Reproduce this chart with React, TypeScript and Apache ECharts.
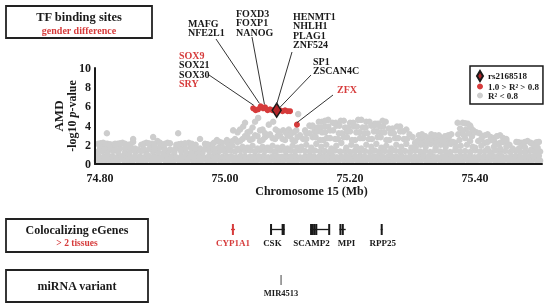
import React, { useEffect, useRef } from "react";
import * as echarts from "echarts";

const FONT = '"Liberation Serif", "Times New Roman", serif';
const RED = "#d63b3b";
const GRAY = "#cdcdcd";
const INK = "#1a1a1a";

// x axis (Mb) range and tick labels
const xMin = 74.792;
const xMax = 75.507;
const xTickValues = [74.8, 75.0, 75.2, 75.4];
const yTickMax = 10;

// Gray SNPs (R² < 0.8): dense band rows and scattered upper points [Mb, -log10 p]
const bandLow: [number, number][] = [[74.795,0.35],[74.802,0.35],[74.809,0.4],[74.816,0.35],[74.823,0.35],[74.830,0.4],[74.838,0.4],[74.845,0.35],[74.852,0.35],[74.860,0.4],[74.867,0.35],[74.874,0.4],[74.882,0.35],[74.889,0.35],[74.896,0.4],[74.904,0.4],[74.911,0.35],[74.918,0.35],[74.926,0.4],[74.933,0.35],[74.940,0.35],[74.948,0.4],[74.955,0.35],[74.962,0.35],[74.970,0.4],[74.977,0.35],[74.984,0.4],[74.992,0.35],[74.999,0.35],[75.006,0.4],[75.014,0.35],[75.021,0.4],[75.028,0.35],[75.036,0.35],[75.043,0.4],[75.050,0.35],[75.058,0.4],[75.065,0.35],[75.072,0.35],[75.080,0.4],[75.087,0.35],[75.094,0.4],[75.102,0.35],[75.109,0.35],[75.116,0.4],[75.124,0.35],[75.131,0.4],[75.138,0.35],[75.146,0.35],[75.153,0.4],[75.160,0.35],[75.168,0.4],[75.175,0.35],[75.182,0.35],[75.190,0.4],[75.197,0.35],[75.204,0.4],[75.212,0.35],[75.219,0.35],[75.226,0.4],[75.234,0.35],[75.241,0.4],[75.248,0.35],[75.256,0.35],[75.263,0.4],[75.270,0.35],[75.278,0.4],[75.285,0.35],[75.292,0.35],[75.300,0.4],[75.307,0.35],[75.314,0.4],[75.322,0.35],[75.329,0.35],[75.336,0.4],[75.344,0.35],[75.351,0.4],[75.358,0.35],[75.366,0.35],[75.373,0.4],[75.380,0.35],[75.388,0.4],[75.395,0.35],[75.402,0.35],[75.410,0.4],[75.417,0.35],[75.424,0.4],[75.432,0.35],[75.439,0.35],[75.446,0.4],[75.454,0.35],[75.461,0.4],[75.468,0.35],[75.476,0.35],[75.483,0.4],[75.490,0.35],[75.498,0.4],[75.504,0.35]];
const bandMid: [number, number][] = [[74.798,0.8],[74.806,0.75],[74.813,0.85],[74.820,0.8],[74.827,0.7],[74.834,0.8],[74.842,0.85],[74.849,0.75],[74.856,0.8],[74.864,0.8],[74.871,0.7],[74.878,0.85],[74.886,0.8],[74.893,0.75],[74.900,0.8],[74.908,0.85],[74.915,0.8],[74.922,0.7],[74.930,0.8],[74.937,0.8],[74.944,0.75],[74.952,0.85],[74.959,0.8],[74.966,0.7],[74.974,0.8],[74.981,0.8],[74.988,0.85],[74.996,0.75],[75.003,0.8],[75.010,0.8],[75.018,0.7],[75.025,0.85],[75.032,0.8],[75.040,0.75],[75.047,0.8],[75.054,0.8],[75.062,0.85],[75.069,0.7],[75.076,0.8],[75.084,0.8],[75.091,0.75],[75.098,0.85],[75.106,0.8],[75.113,0.8],[75.120,0.7],[75.128,0.8],[75.135,0.85],[75.142,0.8],[75.150,0.75],[75.157,0.8],[75.164,0.8],[75.172,0.85],[75.179,0.7],[75.186,0.8],[75.194,0.8],[75.201,0.75],[75.208,0.85],[75.216,0.8],[75.223,0.8],[75.230,0.7],[75.238,0.8],[75.245,0.85],[75.252,0.8],[75.260,0.75],[75.267,0.8],[75.274,0.8],[75.282,0.85],[75.289,0.7],[75.296,0.8],[75.304,0.8],[75.311,0.75],[75.318,0.85],[75.326,0.8],[75.333,0.8],[75.340,0.7],[75.348,0.8],[75.355,0.85],[75.362,0.8],[75.370,0.75],[75.377,0.8],[75.384,0.8],[75.392,0.85],[75.399,0.7],[75.406,0.8],[75.414,0.8],[75.421,0.75],[75.428,0.85],[75.436,0.8],[75.443,0.8],[75.450,0.7],[75.458,0.8],[75.465,0.85],[75.472,0.8],[75.480,0.75],[75.487,0.8],[75.494,0.8],[75.502,0.85]];
const bandHigh: [number, number][] = [[74.796,1.25],[74.804,1.3],[74.812,1.2],[74.821,1.35],[74.829,1.25],[74.840,1.2],[74.848,1.3],[74.857,1.25],[74.866,1.35],[74.874,1.2],[74.885,1.3],[74.893,1.25],[74.902,1.2],[74.910,1.35],[74.919,1.25],[74.930,1.3],[74.938,1.2],[74.947,1.25],[74.956,1.35],[74.964,1.2],[74.975,1.3],[74.983,1.25],[74.991,1.35],[75.000,1.3],[75.008,1.4],[75.016,1.3],[75.024,1.45],[75.032,1.35],[75.040,1.4],[75.048,1.3],[75.056,1.45],[75.064,1.35],[75.072,1.4],[75.080,1.3],[75.088,1.45],[75.096,1.35],[75.104,1.4],[75.112,1.3],[75.120,1.4],[75.128,1.35],[75.136,1.3],[75.144,1.4],[75.152,1.3],[75.160,1.35],[75.168,1.25],[75.176,1.4],[75.184,1.3],[75.192,1.35],[75.200,1.25],[75.208,1.4],[75.216,1.3],[75.224,1.35],[75.232,1.25],[75.240,1.4],[75.248,1.3],[75.256,1.35],[75.264,1.25],[75.272,1.4],[75.280,1.3],[75.288,1.35],[75.296,1.25],[75.304,1.4],[75.312,1.3],[75.320,1.35],[75.328,1.25],[75.336,1.4],[75.344,1.3],[75.352,1.35],[75.360,1.25],[75.368,1.4],[75.376,1.3],[75.384,1.35],[75.392,1.25],[75.400,1.4],[75.408,1.3],[75.416,1.35],[75.424,1.25],[75.432,1.4],[75.440,1.3],[75.448,1.35],[75.456,1.25],[75.464,1.4],[75.472,1.3],[75.480,1.2],[75.488,1.35],[75.496,1.25],[75.504,1.3]];
const grayUpper: [number, number][] = [
  [74.800,1.6],[74.815,1.7],[74.832,1.6],[74.848,1.7],[74.861,1.5],[74.879,1.6],[74.895,1.7],[74.912,1.5],[74.927,1.6],[74.945,1.7],[74.960,1.6],[74.974,1.5],[74.990,1.7],
  [74.807,1.65],[74.823,1.6],[74.840,1.65],[74.856,1.6],[74.870,1.55],[74.887,1.65],[74.903,1.6],[74.920,1.55],[74.936,1.65],[74.952,1.6],[74.967,1.55],[74.982,1.6],[74.998,1.65],
  [74.797,2.1],[74.805,2.2],[74.812,2.1],[74.820,2.0],[74.828,2.1],[74.836,2.2],[74.845,2.0],[74.853,2.3],[74.866,2.0],[74.874,2.2],[74.883,2.1],[74.892,2.4],[74.900,2.0],[74.908,2.2],[74.922,2.0],[74.930,2.1],[74.942,2.2],[74.953,2.0],[74.968,2.1],[74.978,2.0],[74.987,2.5],[74.995,2.2],
  [74.801,2.15],[74.809,2.1],[74.816,2.05],[74.824,2.1],[74.832,2.15],[74.840,2.1],[74.849,2.05],[74.870,2.1],[74.878,2.15],[74.887,2.05],[74.896,2.2],[74.904,2.1],[74.912,2.15],[74.926,2.05],[74.936,2.15],[74.947,2.1],[74.972,2.05],[74.982,2.2],[74.991,2.3],
  [74.811,3.2],[74.853,2.6],[74.885,2.8],[74.925,3.2],[74.960,2.6],[75.003,2.5],
  [75.005,1.7],[75.012,1.9],[75.020,1.6],[75.028,1.8],[75.036,1.7],[75.044,1.9],[75.052,1.6],[75.060,1.8],[75.068,1.7],[75.076,1.9],[75.084,1.7],[75.092,1.8],[75.100,1.6],[75.108,1.9],[75.116,1.7],
  [75.008,2.3],[75.016,2.6],[75.024,2.4],[75.032,2.9],[75.040,2.5],[75.048,3.0],[75.056,2.4],[75.064,2.8],[75.072,3.1],[75.080,2.6],[75.088,3.0],[75.096,2.5],[75.104,2.9],[75.112,2.4],[75.120,3.0],
  [75.004,2.2],[75.012,2.4],[75.020,2.3],[75.028,2.6],[75.036,2.8],[75.044,2.6],[75.052,2.9],[75.060,2.5],[75.068,3.0],[75.076,2.7],[75.084,2.9],[75.092,2.6],[75.100,3.0],[75.108,2.5],[75.116,2.8],
  [75.013,3.5],[75.020,3.3],[75.024,3.6],[75.029,3.9],[75.032,4.3],[75.036,3.3],[75.040,3.4],[75.044,3.8],[75.048,4.4],[75.053,4.8],[75.056,3.5],[75.060,3.6],[75.064,3.2],[75.070,4.1],[75.077,4.4],[75.081,3.6],[75.085,3.4],[75.093,3.5],[75.097,3.3],[75.102,3.6],[75.106,3.2],[75.110,3.3],[75.114,3.5],[75.117,5.2],[75.128,3.5],[75.138,3.9],
  [75.150,4.4],[75.155,4.4],[75.160,4.5],[75.165,4.6],[75.172,4.3],[75.177,4.3],[75.185,4.5],[75.190,4.5],[75.200,4.3],[75.205,4.3],[75.213,4.6],[75.218,4.6],[75.226,4.4],[75.231,4.4],[75.240,4.2],[75.245,4.2],[75.252,4.5],[75.257,4.4],
  [75.135,4.0],[75.140,4.0],[75.148,3.8],[75.153,3.8],[75.160,3.9],[75.165,3.9],[75.178,4.0],[75.183,4.0],[75.192,3.8],[75.197,3.8],[75.206,3.9],[75.211,3.9],[75.220,3.8],[75.225,3.8],[75.234,4.0],[75.239,4.0],[75.248,3.9],[75.253,3.9],[75.262,3.7],[75.268,3.7],[75.275,3.9],[75.280,3.9],[75.290,3.6],
  [75.130,3.2],[75.135,3.2],[75.143,3.4],[75.148,3.4],[75.155,3.3],[75.160,3.3],[75.168,3.5],[75.173,3.5],[75.182,3.2],[75.187,3.2],[75.195,3.4],[75.200,3.4],[75.210,3.3],[75.215,3.3],[75.223,3.2],[75.228,3.2],[75.238,3.4],[75.243,3.4],[75.250,3.3],[75.255,3.3],[75.265,3.2],[75.270,3.2],[75.280,3.4],[75.285,3.4],[75.295,3.1],
  [75.125,2.6],[75.130,2.6],[75.140,2.8],[75.145,2.8],[75.152,2.5],[75.157,2.5],[75.163,2.7],[75.168,2.7],[75.176,2.6],[75.181,2.6],[75.190,2.8],[75.195,2.8],[75.203,2.5],[75.208,2.5],[75.216,2.7],[75.221,2.7],[75.230,2.6],[75.235,2.6],[75.244,2.8],[75.249,2.8],[75.258,2.5],[75.263,2.5],[75.272,2.7],[75.277,2.7],[75.286,2.6],[75.291,2.6],[75.300,2.8],
  [75.122,1.8],[75.130,2.0],[75.138,1.7],[75.146,2.1],[75.154,1.8],[75.162,2.0],[75.170,1.6],[75.178,1.9],[75.186,2.2],[75.194,1.7],[75.202,2.0],[75.210,1.8],[75.218,1.6],[75.226,2.0],[75.234,1.8],[75.242,2.1],[75.250,1.7],[75.258,1.9],[75.266,1.6],[75.274,2.0],[75.282,1.8],[75.290,2.1],[75.298,1.7],
  [75.305,1.7],[75.313,2.0],[75.321,1.8],[75.329,2.1],[75.337,1.7],[75.345,2.0],[75.353,1.8],[75.361,2.1],[75.369,1.7],
  [75.304,2.2],[75.312,2.3],[75.320,2.2],[75.328,2.3],[75.336,2.2],[75.344,2.3],[75.352,2.2],[75.360,2.3],[75.368,2.2],
  [75.308,2.4],[75.316,2.6],[75.324,2.3],[75.332,2.5],[75.340,2.7],[75.348,2.4],[75.356,2.6],[75.364,2.3],
  [75.314,2.8],[75.326,2.7],[75.336,2.8],[75.346,2.7],[75.358,2.8],
  [75.310,3.0],[75.315,3.1],[75.320,2.9],[75.330,3.1],[75.336,3.0],[75.342,3.0],[75.352,2.9],[75.357,3.0],[75.362,3.1],
  [75.372,4.3],[75.380,4.3],[75.384,4.25],[75.388,4.2],[75.392,4.0],[75.376,3.7],[75.385,3.6],[75.393,3.8],[75.380,3.4],[75.397,3.5],[75.373,3.1],[75.382,3.0],[75.390,3.2],[75.375,2.5],[75.384,2.7],[75.392,2.4],[75.377,1.9],[75.387,2.0],[75.396,1.8],
  [75.402,3.3],[75.407,3.2],[75.412,2.9],[75.416,3.0],[75.420,3.1],[75.425,2.8],[75.430,2.7],[75.435,2.9],[75.440,3.0],[75.445,2.7],[75.450,2.6],[75.395,2.9],
  [75.405,2.4],[75.410,2.6],[75.415,2.2],[75.420,2.3],[75.425,2.5],[75.430,2.4],[75.435,2.1],[75.440,2.2],[75.445,2.3],[75.450,2.4],[75.455,2.0],
  [75.400,1.7],[75.410,1.9],[75.420,1.6],[75.430,1.8],[75.440,1.6],[75.450,1.8],[75.460,1.6],
  [75.466,2.3],[75.470,2.25],[75.475,2.2],[75.480,2.3],[75.484,2.4],[75.489,2.2],[75.493,2.1],[75.498,2.25],[75.502,2.3],
  [75.470,1.6],[75.475,1.9],[75.480,1.7],[75.490,1.5],[75.495,1.9],[75.500,1.7],
];
// Red SNPs (1.0 > R² > 0.8)
const redPoints: [number, number][] = [[75.045,5.8],[75.049,5.6],[75.053,5.7],[75.057,6.0],[75.061,5.8],[75.064,5.9],[75.068,5.6],[75.072,5.7],[75.076,5.6],[75.088,5.6],[75.092,5.5],[75.096,5.6],[75.100,5.5],[75.104,5.5],[75.115,4.1]];
// Lead SNP
const leadSnp: [number, number][] = [[75.0826, 5.6]];

// TF binding annotations: names, red ones, and the SNP each group points to
const tfGroups: string[][] = [
  ["SOX9", "SOX21", "SOX30", "SRY"],
  ["MAFG", "NFE2L1"],
  ["FOXD3", "FOXP1", "NANOG"],
  ["HENMT1", "NHLH1", "PLAG1", "ZNF524"],
  ["SP1", "ZSCAN4C"],
  ["ZFX"],
];
const tfRed = ["SOX9", "SRY", "ZFX"];
const tfTargets: [number, number][] = [[75.046, 5.8], [75.055, 6.0], [75.063, 5.9], [75.0826, 5.6], [75.088, 5.6], [75.115, 4.1]];

// Colocalizing eGenes (Mb)
const geneNames = ["CYP1A1", "CSK", "SCAMP2", "MPI", "RPP25"];
const geneStart = [75.0095, 75.072, 75.136, 75.183, 75.249];
const geneEnd = [75.016, 75.0955, 75.166, 75.193, 75.252];
const geneExons: [number, number][][] = [
  [[75.011, 75.0135]],
  [[75.072, 75.0728], [75.0905, 75.0955]],
  [[75.136, 75.1368], [75.1388, 75.1396], [75.1416, 75.1424], [75.1444, 75.1452], [75.165, 75.166]],
  [[75.183, 75.1838], [75.1868, 75.1876]],
  [[75.249, 75.252]],
];
const geneRed = ["CYP1A1"];
// miRNA variant
const mirNames = ["MIR4513"];
const mirPos = [75.0896];

// layout (pixels)
const tfLayout = [
  { x: 179, y: 55, from: [209, 75], dy: -3 },
  { x: 188, y: 23, from: [216, 39], dy: -3 },
  { x: 236, y: 13, from: [252, 37], dy: -3 },
  { x: 293, y: 16, from: [292, 52], dy: -6 },
  { x: 313, y: 61, from: [311, 75], dy: -3 },
  { x: 337, y: 89, from: [333, 95], dy: -2 },
];
const geneLabelDx = [0, -5, -8, 4, 1];

export default function App() {
  const ref = useRef<HTMLDivElement>(null);
  useEffect(() => {
    const chart = echarts.init(ref.current!, null, { renderer: "svg" });
    const grid = [
      { left: 95, right: 8, top: 68, bottom: 144 },
      { left: 95, right: 8, top: 224, height: 11 },
      { left: 95, right: 8, top: 275, height: 10 },
    ];
    const geneRender = (names: string[], exons: [number, number][][] | null, reds: string[], dxs: number[]) =>
      (params: any, api: any) => {
        const i = api.value(2);
        const s = api.coord([api.value(0), 0.5]);
        const e = api.coord([api.value(1), 0.5]);
        const top = api.coord([api.value(0), 1])[1];
        const bottom = api.coord([api.value(0), 0])[1];
        const color = reds.includes(names[i]) ? RED : INK;
        const children: any[] = [];
        if (exons) {
          children.push({ type: "line", shape: { x1: s[0], y1: s[1], x2: e[0], y2: e[1] }, style: { stroke: color, lineWidth: 1.3 } });
          exons[i].forEach(([a, b]) => {
            const pa = api.coord([a, 0.5])[0];
            const pb = api.coord([b, 0.5])[0];
            const w = Math.max(2, pb - pa);
            children.push({ type: "rect", shape: { x: pa, y: top, width: w, height: bottom - top }, style: { fill: color } });
          });
        } else {
          children.push({ type: "line", shape: { x1: s[0], y1: top, x2: s[0], y2: bottom }, style: { stroke: "#444", lineWidth: 1 } });
        }
        children.push({
          type: "text",
          style: { text: names[i], x: (s[0] + e[0]) / 2 + (dxs[i] || 0), y: bottom + 3, align: "center", verticalAlign: "top", fill: color, font: `bold ${exons ? 9 : 8.5}px ${FONT}` },
        });
        return { type: "group", children };
      };

    const option: any = {
      animation: false,
      textStyle: { fontFamily: FONT },
      grid,
      legend: {
        orient: "vertical",
        left: 470,
        top: 66,
        padding: [4, 4, 4, 6],
        itemGap: 0,
        itemWidth: 6,
        itemHeight: 10,
        borderColor: INK,
        borderWidth: 1.5,
        textStyle: { fontSize: 9, fontWeight: "bold", color: INK, fontFamily: FONT },
        data: [
          { name: "rs2168518", icon: "diamond" },
          { name: "1.0 > R² > 0.8", icon: "circle" },
          { name: "R² < 0.8", icon: "circle" },
        ],
      },
      xAxis: [
        {
          type: "value", gridIndex: 0, min: xMin, max: xMax, z: 5,
          axisLine: { lineStyle: { color: INK, width: 2 } },
          axisTick: { show: false },
          splitLine: { show: false },
          axisLabel: { customValues: xTickValues, formatter: (v: number) => v.toFixed(2), fontSize: 12, fontWeight: "bold", color: INK, margin: 8, fontFamily: FONT },
          name: "Chromosome 15 (Mb)", nameLocation: "middle", nameGap: 21,
          nameTextStyle: { fontSize: 12, fontWeight: "bold", color: INK, fontFamily: FONT, padding: [0, 14, 0, 0] },
        },
        { type: "value", gridIndex: 1, min: xMin, max: xMax, show: false },
        { type: "value", gridIndex: 2, min: xMin, max: xMax, show: false },
      ],
      yAxis: [
        {
          type: "value", gridIndex: 0, min: 0, max: yTickMax, interval: 2, z: 5,
          axisLine: { show: true, lineStyle: { color: INK, width: 2 } },
          axisTick: { show: false },
          splitLine: { show: false },
          axisLabel: { fontSize: 12, fontWeight: "bold", color: INK, margin: 4, fontFamily: FONT },
          name: "{a|AMD}\n{b|-log10 }{i|p}{b|-value}",
          nameLocation: "middle", nameRotate: 90, nameGap: 17, nameMoveOverlap: false,
          nameTextStyle: {
            align: "center",
            rich: {
              a: { fontSize: 13, fontWeight: "bold", color: INK, fontFamily: FONT, lineHeight: 14, align: "center" },
              b: { fontSize: 12, fontWeight: "bold", color: INK, fontFamily: FONT, lineHeight: 13 },
              i: { fontSize: 12, fontWeight: "bold", fontStyle: "italic", color: INK, fontFamily: FONT, lineHeight: 13 },
            },
          },
        },
        { type: "value", gridIndex: 1, min: 0, max: 1, show: false },
        { type: "value", gridIndex: 2, min: 0, max: 1, show: false },
      ],
      series: [
        {
          name: "R² < 0.8", type: "scatter", xAxisIndex: 0, yAxisIndex: 0,
          symbolSize: 6.5, itemStyle: { color: GRAY, opacity: 1 },
          data: [...bandLow, ...bandMid, ...bandHigh, ...grayUpper],
        },
        {
          name: "1.0 > R² > 0.8", type: "scatter", xAxisIndex: 0, yAxisIndex: 0,
          symbolSize: 6, itemStyle: { color: RED, opacity: 1 }, data: redPoints,
        },
        {
          name: "rs2168518", type: "scatter", xAxisIndex: 0, yAxisIndex: 0,
          symbol: "diamond", symbolSize: [9, 14],
          itemStyle: { color: "#b3262a", borderColor: INK, borderWidth: 1.5, opacity: 1 }, data: leadSnp,
        },
        {
          name: "eGenes", type: "custom", xAxisIndex: 1, yAxisIndex: 1,
          data: geneNames.map((_, i) => [geneStart[i], geneEnd[i], i]),
          renderItem: geneRender(geneNames, geneExons, geneRed, geneLabelDx),
        },
        {
          name: "miRNA", type: "custom", xAxisIndex: 2, yAxisIndex: 2,
          data: mirNames.map((_, i) => [mirPos[i], mirPos[i], i]),
          renderItem: geneRender(mirNames, null, [], []),
        },
      ],
    };
    chart.setOption(option);

    const g: any[] = [];
    const box = (x: number, y: number, w: number, h: number) =>
      g.push({ type: "rect", shape: { x, y, width: w, height: h }, style: { fill: "#fff", stroke: "#222", lineWidth: 1.8 } });
    const txt = (text: string, x: number, y: number, size: number, color: string, align = "center", weight = "bold") =>
      g.push({ type: "text", x, y, style: { text, fill: color, font: `${weight} ${size}px ${FONT}`, align, verticalAlign: "middle" } });

    box(6, 6, 146, 32);
    txt("TF binding sites", 79, 17, 12.5, INK);
    txt("gender difference", 79, 30, 10, RED);
    box(6, 219, 142, 33);
    txt("Colocalizing eGenes", 77, 230, 12, INK);
    txt("> 2 tissues", 77, 243, 9.5, RED);
    box(6, 270, 142, 32);
    txt("miRNA variant", 77, 286, 12, INK);

    tfGroups.forEach((names, k) => {
      const L = tfLayout[k];
      names.forEach((n, j) => txt(n, L.x, L.y + j * 9.6, 10, tfRed.includes(n) ? RED : INK, "left"));
      const p = chart.convertToPixel({ gridIndex: 0 }, tfTargets[k]) as number[];
      g.push({ type: "line", z: 10, shape: { x1: L.from[0], y1: L.from[1], x2: p[0], y2: p[1] + L.dy }, style: { stroke: "#333", lineWidth: 1 } });
    });
    chart.setOption({ graphic: g });

    return () => chart.dispose();
  }, []);
  return <div ref={ref} style={{ position: "fixed", left: 0, top: 0, width: 550, height: 308 }} />;
}
